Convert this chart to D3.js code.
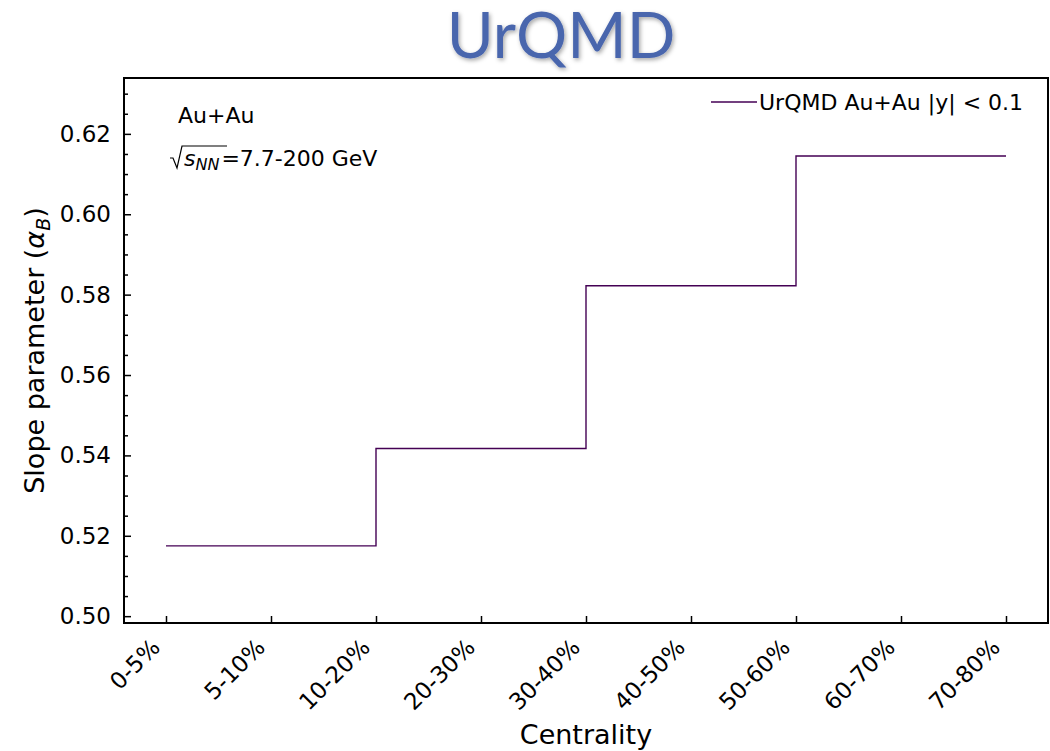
<!DOCTYPE html>
<html>
<head>
<meta charset="utf-8">
<script src="https://cdn.jsdelivr.net/npm/d3@7"></script>
<style>
  body { margin: 0; background: #fff; }
  svg text { font-family: "DejaVu Sans", sans-serif; }
</style>
</head>
<body>
<div id="chart"></div>
<script>
// centrality classes and the step values
const categories = ["0-5%", "5-10%", "10-20%", "20-30%", "30-40%", "40-50%", "50-60%", "60-70%", "70-80%"];
const stepIndex = [0, 2, 4, 6, 8];
const slopeValues = [0.5175, 0.5417, 0.5822, 0.6145, 0.6145];
const yTicks = [0.50, 0.52, 0.54, 0.56, 0.58, 0.60, 0.62];

const W = 1050, H = 751;
const margin = { top: 78, right: 2, bottom: 128, left: 124 };
const width = W - margin.left - margin.right,
      height = H - margin.top - margin.bottom;

const svg = d3.select("#chart").append("svg")
    .attr("width", W)
    .attr("height", H);

// title with soft shadow
const defs = svg.append("defs");
const f = defs.append("filter").attr("id", "shadow")
    .attr("x", "-10%").attr("y", "-10%").attr("width", "130%").attr("height", "140%");
f.append("feDropShadow")
    .attr("dx", 1.5).attr("dy", 2).attr("stdDeviation", 2)
    .attr("flood-color", "#000").attr("flood-opacity", 0.35);

svg.append("text")
    .attr("x", 561)
    .attr("y", 58)
    .attr("text-anchor", "middle")
    .attr("fill", "#4a66ad")
    .attr("filter", "url(#shadow)")
    .style("font-family", "Lato, 'Open Sans', sans-serif")
    .style("font-size", "64px")
    .text("UrQMD");

const chart = svg.append("g")
    .attr("transform", `translate(${margin.left},${margin.top})`);

const x = d3.scaleLinear().domain([-0.4, 8.4]).range([0, width]);
const y = d3.scaleLinear().domain([0.4983, 0.6339]).range([height, 0]);

// y axis, ticks pointing inward
const yAxis = chart.append("g")
    .call(d3.axisLeft(y).tickValues(yTicks).tickFormat(d3.format(".2f")).tickSize(-7).tickPadding(13));
const minor = d3.range(0.500, 0.634, 0.005).filter(v => !yTicks.some(t => Math.abs(t - v) < 1e-6));
chart.append("g")
    .call(d3.axisLeft(y).tickValues(minor).tickFormat("").tickSize(-4));

// x axis
const xAxis = chart.append("g")
    .attr("transform", `translate(0,${height})`)
    .call(d3.axisBottom(x).tickValues(d3.range(categories.length)).tickFormat(i => categories[i]).tickSize(-7).tickPadding(14));

chart.selectAll(".domain").remove();
chart.selectAll(".tick line").attr("stroke", "#000").attr("stroke-width", 1.5);
yAxis.selectAll("text").style("font-size", "23px").attr("fill", "#000");
xAxis.selectAll("text")
    .style("font-size", "23px")
    .attr("fill", "#000")
    .attr("text-anchor", "end")
    .attr("dy", null)
    .attr("transform", "translate(-15,16) rotate(-45)");

// frame
chart.append("rect")
    .attr("width", width)
    .attr("height", height)
    .attr("fill", "none")
    .attr("stroke", "#000")
    .attr("stroke-width", 2);

// step line
const line = d3.line()
    .x((d, i) => x(stepIndex[i]))
    .y(d => y(d))
    .curve(d3.curveStepAfter);

chart.append("path")
    .datum(slopeValues)
    .attr("d", line)
    .attr("fill", "none")
    .attr("stroke", "#440154")
    .attr("stroke-width", 1.4);

// annotations
chart.append("text")
    .attr("x", 54).attr("y", 45)
    .style("font-size", "22px")
    .text("Au+Au");

const sq = chart.append("g").attr("transform", "translate(46,88)");
sq.append("path")
    .attr("d", "M0,-8 L3,-8 L7,2 L12,-20 L57,-20")
    .attr("fill", "none").attr("stroke", "#000").attr("stroke-width", 1.2);
sq.append("text")
    .attr("x", 14).attr("y", 0)
    .style("font-size", "22px")
    .html('<tspan font-style="italic">s</tspan><tspan font-style="italic" font-size="16px" dy="4">NN</tspan><tspan dy="-4" dx="2">=7.7-200 GeV</tspan>');

// legend
const leg = chart.append("g").attr("transform", `translate(${width - 337},32)`);
leg.append("line")
    .attr("x1", 0).attr("x2", 46).attr("y1", -8).attr("y2", -8)
    .attr("stroke", "#440154").attr("stroke-width", 1.4);
leg.append("text")
    .attr("x", 48).attr("y", 0)
    .style("font-size", "22px")
    .text("UrQMD Au+Au |y| < 0.1");

// axis titles
svg.append("text")
    .attr("x", margin.left + x(4))
    .attr("y", 744)
    .attr("text-anchor", "middle")
    .style("font-size", "27px")
    .text("Centrality");

svg.append("text")
    .attr("transform", `translate(44,${margin.top + height / 2}) rotate(-90)`)
    .attr("text-anchor", "middle")
    .style("font-size", "27px")
    .html('Slope parameter (<tspan font-style="italic">α</tspan><tspan font-style="italic" font-size="19px" dy="6">B</tspan><tspan dy="-6">)</tspan>');
</script>
</body>
</html>
